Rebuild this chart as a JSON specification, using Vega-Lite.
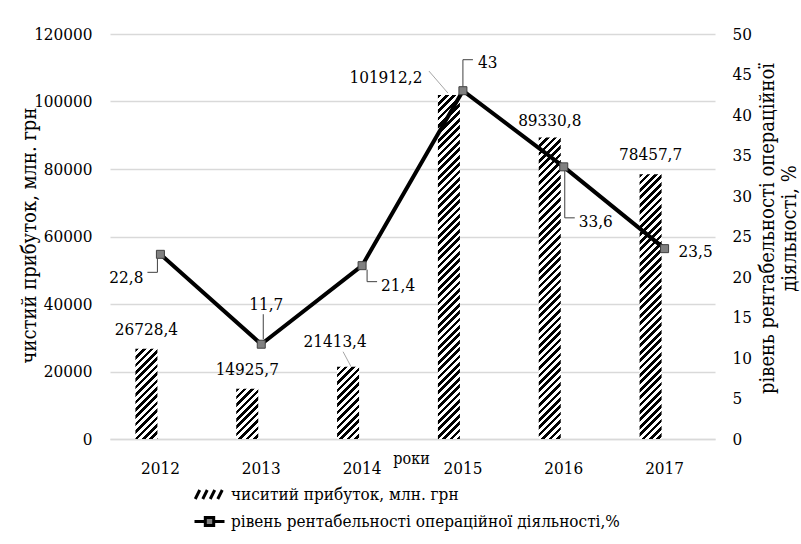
{
  "$schema": "https://vega.github.io/schema/vega-lite/v6.json",
  "width": 605,
  "height": 405,
  "autosize": "none",
  "padding": {"left": 110, "top": 34, "right": 86, "bottom": 105},
  "background": "white",
  "params": [
    {"name": "hatch", "value": [
      {"offset":0,"color":"#000"},{"offset":0.01,"color":"#000"},{"offset":0.01,"color":"#fff"},{"offset":0.02,"color":"#fff"},
      {"offset":0.02,"color":"#000"},{"offset":0.03,"color":"#000"},{"offset":0.03,"color":"#fff"},{"offset":0.04,"color":"#fff"},
      {"offset":0.04,"color":"#000"},{"offset":0.05,"color":"#000"},{"offset":0.05,"color":"#fff"},{"offset":0.06,"color":"#fff"},
      {"offset":0.06,"color":"#000"},{"offset":0.07,"color":"#000"},{"offset":0.07,"color":"#fff"},{"offset":0.08,"color":"#fff"},
      {"offset":0.08,"color":"#000"},{"offset":0.09,"color":"#000"},{"offset":0.09,"color":"#fff"},{"offset":0.10,"color":"#fff"},
      {"offset":0.10,"color":"#000"},{"offset":0.11,"color":"#000"},{"offset":0.11,"color":"#fff"},{"offset":0.12,"color":"#fff"},
      {"offset":0.12,"color":"#000"},{"offset":0.13,"color":"#000"},{"offset":0.13,"color":"#fff"},{"offset":0.14,"color":"#fff"},
      {"offset":0.14,"color":"#000"},{"offset":0.15,"color":"#000"},{"offset":0.15,"color":"#fff"},{"offset":0.16,"color":"#fff"},
      {"offset":0.16,"color":"#000"},{"offset":0.17,"color":"#000"},{"offset":0.17,"color":"#fff"},{"offset":0.18,"color":"#fff"},
      {"offset":0.18,"color":"#000"},{"offset":0.19,"color":"#000"},{"offset":0.19,"color":"#fff"},{"offset":0.20,"color":"#fff"},
      {"offset":0.20,"color":"#000"},{"offset":0.21,"color":"#000"},{"offset":0.21,"color":"#fff"},{"offset":0.22,"color":"#fff"},
      {"offset":0.22,"color":"#000"},{"offset":0.23,"color":"#000"},{"offset":0.23,"color":"#fff"},{"offset":0.24,"color":"#fff"},
      {"offset":0.24,"color":"#000"},{"offset":0.25,"color":"#000"},{"offset":0.25,"color":"#fff"},{"offset":0.26,"color":"#fff"},
      {"offset":0.26,"color":"#000"},{"offset":0.27,"color":"#000"},{"offset":0.27,"color":"#fff"},{"offset":0.28,"color":"#fff"},
      {"offset":0.28,"color":"#000"},{"offset":0.29,"color":"#000"},{"offset":0.29,"color":"#fff"},{"offset":0.30,"color":"#fff"},
      {"offset":0.30,"color":"#000"},{"offset":0.31,"color":"#000"},{"offset":0.31,"color":"#fff"},{"offset":0.32,"color":"#fff"},
      {"offset":0.32,"color":"#000"},{"offset":0.33,"color":"#000"},{"offset":0.33,"color":"#fff"},{"offset":0.34,"color":"#fff"},
      {"offset":0.34,"color":"#000"},{"offset":0.35,"color":"#000"},{"offset":0.35,"color":"#fff"},{"offset":0.36,"color":"#fff"},
      {"offset":0.36,"color":"#000"},{"offset":0.37,"color":"#000"},{"offset":0.37,"color":"#fff"},{"offset":0.38,"color":"#fff"},
      {"offset":0.38,"color":"#000"},{"offset":0.39,"color":"#000"},{"offset":0.39,"color":"#fff"},{"offset":0.40,"color":"#fff"},
      {"offset":0.40,"color":"#000"},{"offset":0.41,"color":"#000"},{"offset":0.41,"color":"#fff"},{"offset":0.42,"color":"#fff"},
      {"offset":0.42,"color":"#000"},{"offset":0.43,"color":"#000"},{"offset":0.43,"color":"#fff"},{"offset":0.44,"color":"#fff"},
      {"offset":0.44,"color":"#000"},{"offset":0.45,"color":"#000"},{"offset":0.45,"color":"#fff"},{"offset":0.46,"color":"#fff"},
      {"offset":0.46,"color":"#000"},{"offset":0.47,"color":"#000"},{"offset":0.47,"color":"#fff"},{"offset":0.48,"color":"#fff"},
      {"offset":0.48,"color":"#000"},{"offset":0.49,"color":"#000"},{"offset":0.49,"color":"#fff"},{"offset":0.50,"color":"#fff"},
      {"offset":0.50,"color":"#000"},{"offset":0.51,"color":"#000"},{"offset":0.51,"color":"#fff"},{"offset":0.52,"color":"#fff"},
      {"offset":0.52,"color":"#000"},{"offset":0.53,"color":"#000"},{"offset":0.53,"color":"#fff"},{"offset":0.54,"color":"#fff"},
      {"offset":0.54,"color":"#000"},{"offset":0.55,"color":"#000"},{"offset":0.55,"color":"#fff"},{"offset":0.56,"color":"#fff"},
      {"offset":0.56,"color":"#000"},{"offset":0.57,"color":"#000"},{"offset":0.57,"color":"#fff"},{"offset":0.58,"color":"#fff"},
      {"offset":0.58,"color":"#000"},{"offset":0.59,"color":"#000"},{"offset":0.59,"color":"#fff"},{"offset":0.60,"color":"#fff"},
      {"offset":0.60,"color":"#000"},{"offset":0.61,"color":"#000"},{"offset":0.61,"color":"#fff"},{"offset":0.62,"color":"#fff"},
      {"offset":0.62,"color":"#000"},{"offset":0.63,"color":"#000"},{"offset":0.63,"color":"#fff"},{"offset":0.64,"color":"#fff"},
      {"offset":0.64,"color":"#000"},{"offset":0.65,"color":"#000"},{"offset":0.65,"color":"#fff"},{"offset":0.66,"color":"#fff"},
      {"offset":0.66,"color":"#000"},{"offset":0.67,"color":"#000"},{"offset":0.67,"color":"#fff"},{"offset":0.68,"color":"#fff"},
      {"offset":0.68,"color":"#000"},{"offset":0.69,"color":"#000"},{"offset":0.69,"color":"#fff"},{"offset":0.70,"color":"#fff"},
      {"offset":0.70,"color":"#000"},{"offset":0.71,"color":"#000"},{"offset":0.71,"color":"#fff"},{"offset":0.72,"color":"#fff"},
      {"offset":0.72,"color":"#000"},{"offset":0.73,"color":"#000"},{"offset":0.73,"color":"#fff"},{"offset":0.74,"color":"#fff"},
      {"offset":0.74,"color":"#000"},{"offset":0.75,"color":"#000"},{"offset":0.75,"color":"#fff"},{"offset":0.76,"color":"#fff"},
      {"offset":0.76,"color":"#000"},{"offset":0.77,"color":"#000"},{"offset":0.77,"color":"#fff"},{"offset":0.78,"color":"#fff"},
      {"offset":0.78,"color":"#000"},{"offset":0.79,"color":"#000"},{"offset":0.79,"color":"#fff"},{"offset":0.80,"color":"#fff"},
      {"offset":0.80,"color":"#000"},{"offset":0.81,"color":"#000"},{"offset":0.81,"color":"#fff"},{"offset":0.82,"color":"#fff"},
      {"offset":0.82,"color":"#000"},{"offset":0.83,"color":"#000"},{"offset":0.83,"color":"#fff"},{"offset":0.84,"color":"#fff"},
      {"offset":0.84,"color":"#000"},{"offset":0.85,"color":"#000"},{"offset":0.85,"color":"#fff"},{"offset":0.86,"color":"#fff"},
      {"offset":0.86,"color":"#000"},{"offset":0.87,"color":"#000"},{"offset":0.87,"color":"#fff"},{"offset":0.88,"color":"#fff"},
      {"offset":0.88,"color":"#000"},{"offset":0.89,"color":"#000"},{"offset":0.89,"color":"#fff"},{"offset":0.90,"color":"#fff"},
      {"offset":0.90,"color":"#000"},{"offset":0.91,"color":"#000"},{"offset":0.91,"color":"#fff"},{"offset":0.92,"color":"#fff"},
      {"offset":0.92,"color":"#000"},{"offset":0.93,"color":"#000"},{"offset":0.93,"color":"#fff"},{"offset":0.94,"color":"#fff"},
      {"offset":0.94,"color":"#000"},{"offset":0.95,"color":"#000"},{"offset":0.95,"color":"#fff"},{"offset":0.96,"color":"#fff"},
      {"offset":0.96,"color":"#000"},{"offset":0.97,"color":"#000"},{"offset":0.97,"color":"#fff"},{"offset":0.98,"color":"#fff"},
      {"offset":0.98,"color":"#000"},{"offset":0.99,"color":"#000"},{"offset":0.99,"color":"#fff"},{"offset":1,"color":"#fff"}
    ]}
  ],
  "data": {"values": [
    {"year": "2012", "profit": 26728.4, "rate": 22.8},
    {"year": "2013", "profit": 14925.7, "rate": 11.7},
    {"year": "2014", "profit": 21413.4, "rate": 21.4},
    {"year": "2015", "profit": 101912.2, "rate": 43},
    {"year": "2016", "profit": 89330.8, "rate": 33.6},
    {"year": "2017", "profit": 78457.7, "rate": 23.5}
  ]},
  "layer": [
    {
      "layer": [
        {
          "mark": {
            "type": "bar",
            "width": 22,
            "xOffset": -14,
            "fill": {"expr": "{gradient:'linear',x1:0,y1:0,x2:22*370/(484+pow(datum.profit*height/120000,2)),y2:(datum.profit*height/120000)*370/(484+pow(datum.profit*height/120000,2)),stops:hatch}"}
          },
          "encoding": {
            "x": {
              "field": "year", "type": "ordinal",
              "scale": {"paddingInner": 0, "paddingOuter": 0},
              "axis": {
                "labelAngle": 0, "labelPadding": 21, "domain": true, "domainColor": "#d9d9d9", "domainWidth": 1.5,
                "title": "роки", "titleX": 301, "titleY": 24, "titleAlign": "center", "titleBaseline": "alphabetic",
                "titleFontSize": 16, "titleFontWeight": "normal"
              }
            },
            "y": {
              "field": "profit", "type": "quantitative",
              "scale": {"domain": [0, 120000], "nice": false},
              "axis": {
                "values": [0, 20000, 40000, 60000, 80000, 100000, 120000],
                "format": "d", "grid": true, "gridColor": "#d9d9d9", "gridWidth": 1.5,
                "labelPadding": 18,
                "title": "чистий прибуток, млн. грн", "titleFontSize": 20,
                "titleAngle": -90, "titleX": -75, "titleY": 201, "titleAlign": "center", "titleBaseline": "alphabetic"
              }
            }
          }
        },
        {
          "mark": {
            "type": "rule", "color": "#a6a6a6", "strokeWidth": 1,
            "opacity": {"expr": "datum.year === '2014' || datum.year === '2015' ? 1 : 0"},
            "xOffset": {"expr": "datum.year === '2014' ? -19 : -34"},
            "x2Offset": {"expr": "datum.year === '2014' ? -11 : -15"},
            "yOffset": {"expr": "datum.year === '2014' ? -15 : -24"},
            "y2Offset": {"expr": "datum.year === '2014' ? 0 : -2"}
          },
          "encoding": {
            "x": {"field": "year", "type": "ordinal", "bandPosition": 0.5},
            "x2": {"field": "year", "bandPosition": 0.5},
            "y": {"field": "profit", "type": "quantitative"},
            "y2": {"field": "profit"}
          }
        },
        {
          "mark": {
            "type": "text", "xOffset": -14, "baseline": "alphabetic", "align": "center",
            "dx": {"expr": "datum.year === '2014' ? -13 : datum.year === '2015' ? -63 : 0"},
            "dy": {"expr": "datum.year === '2014' ? -20 : datum.year === '2015' ? -12 : datum.year === '2016' ? -12 : -14"}
          },
          "encoding": {
            "x": {"field": "year", "type": "ordinal"},
            "y": {"field": "profit", "type": "quantitative"},
            "text": {"field": "profit", "type": "quantitative", "format": ".1~f"}
          }
        }
      ]
    },
    {
      "layer": [
        {
          "mark": {"type": "line", "color": "#000", "strokeWidth": 4},
          "encoding": {
            "x": {"field": "year", "type": "ordinal"},
            "y": {
              "field": "rate", "type": "quantitative",
              "scale": {"domain": [0, 50], "nice": false},
              "axis": {
                "orient": "right", "grid": false,
                "values": [0, 5, 10, 15, 20, 25, 30, 35, 40, 45, 50],
                "labelPadding": 17,
                "title": ["рівень рентабельності операційної", "діяльності, %"], "titleFontSize": 20,
                "titleAngle": -90, "titleX": 58, "titleY": 194, "titleAlign": "center", "titleBaseline": "alphabetic",
                "titleLineHeight": 22
              }
            }
          }
        },
        {
          "mark": {
            "type": "rule", "color": "#404040", "strokeWidth": 1,
            "xOffset": {"expr": "datum.year === '2012' ? -3 : datum.year === '2013' ? 2 : datum.year === '2014' ? 5 : datum.year === '2016' ? 1 : 0"},
            "yOffset": {"expr": "datum.year === '2012' ? 4 : datum.year === '2013' ? -30 : datum.year === '2014' ? 4 : datum.year === '2015' ? -31 : datum.year === '2016' ? 4 : 0"},
            "y2Offset": {"expr": "datum.year === '2012' ? 18 : datum.year === '2013' ? -5 : datum.year === '2014' ? 16 : datum.year === '2015' ? -4 : datum.year === '2016' ? 51 : 0"}
          },
          "encoding": {
            "x": {"field": "year", "type": "ordinal"},
            "y": {"field": "rate", "type": "quantitative"},
            "y2": {"field": "rate"}
          }
        },
        {
          "mark": {
            "type": "tick", "orient": "horizontal", "color": "#404040", "size": 10, "thickness": 1,
            "opacity": {"expr": "datum.year === '2013' || datum.year === '2017' ? 0 : 1"},
            "xOffset": {"expr": "datum.year === '2012' ? -8 : datum.year === '2014' ? 10 : datum.year === '2016' ? 6 : 5"},
            "yOffset": {"expr": "datum.year === '2012' ? 18 : datum.year === '2014' ? 16 : datum.year === '2015' ? -31 : datum.year === '2016' ? 51 : 0"}
          },
          "encoding": {
            "x": {"field": "year", "type": "ordinal"},
            "y": {"field": "rate", "type": "quantitative"}
          }
        },
        {
          "mark": {"type": "square", "size": 64, "fill": "#808080", "stroke": "#404040", "strokeWidth": 1, "opacity": 1},
          "encoding": {
            "x": {"field": "year", "type": "ordinal"},
            "y": {"field": "rate", "type": "quantitative"}
          }
        },
        {
          "mark": {
            "type": "text", "baseline": "alphabetic",
            "align": {"expr": "datum.year === '2012' ? 'right' : datum.year === '2013' ? 'center' : 'left'"},
            "dx": {"expr": "datum.year === '2012' ? -17 : datum.year === '2013' ? 5 : datum.year === '2014' ? 19 : datum.year === '2017' ? 14 : 15"},
            "dy": {"expr": "datum.year === '2012' ? 29 : datum.year === '2013' ? -34 : datum.year === '2014' ? 25 : datum.year === '2015' ? -23 : datum.year === '2016' ? 60 : 8"}
          },
          "encoding": {
            "x": {"field": "year", "type": "ordinal"},
            "y": {"field": "rate", "type": "quantitative"},
            "text": {"field": "rate", "type": "quantitative", "format": ".1~f"}
          }
        }
      ]
    },
    {
      "data": {"values": [
        {"series": "чиситий прибуток, млн. грн"},
        {"series": "рівень рентабельності операційної діяльності,%"}
      ]},
      "mark": {"type": "point", "opacity": 0},
      "encoding": {
        "shape": {
          "field": "series", "type": "nominal",
          "scale": {
            "domain": ["чиситий прибуток, млн. грн", "рівень рентабельності операційної діяльності,%"],
            "range": ["M-0.95,0.3L-0.65,-0.3M-0.45,0.3L-0.15,-0.3M0.05,0.3L0.35,-0.3M0.55,0.3L0.85,-0.3", "M-1,0L-0.3,0M0.3,0L1,0M-0.28,-0.27L0.28,-0.27L0.28,0.27L-0.28,0.27Z"]
          },
          "legend": {
            "title": null, "orient": "none", "legendX": 83, "legendY": 444, "direction": "vertical",
            "padding": 0, "rowPadding": 0, "symbolSize": 900, "labelOffset": 5, "labelLimit": 0,
            "labelFontSize": 17, "labelColor": "#000",
            "symbolStrokeWidth": 3, "symbolOpacity": 1,
            "encode": {"symbols": {"update": {"opacity": {"value": 1}}}}
          }
        },
        "fill": {
          "field": "series", "type": "nominal",
          "scale": {
            "domain": ["чиситий прибуток, млн. грн", "рівень рентабельності операційної діяльності,%"],
            "range": ["#808080", "#808080"]
          }
        },
        "stroke": {
          "field": "series", "type": "nominal",
          "scale": {
            "domain": ["чиситий прибуток, млн. грн", "рівень рентабельності операційної діяльності,%"],
            "range": ["#000", "#000"]
          }
        }
      }
    }
  ],
  "resolve": {"scale": {"y": "independent"}},
  "config": {
    "locale": {"number": {"decimal": ",", "thousands": "", "grouping": [3], "currency": ["", ""]}},
    "view": {"stroke": null},
    "font": "DejaVu Serif Condensed, DejaVu Serif",
    "text": {"fontSize": 17, "color": "#000"},
    "legend": {"labelFont": "DejaVu Serif Condensed, DejaVu Serif"},
    "axis": {
      "labelFont": "DejaVu Serif Condensed, DejaVu Serif", "labelFontSize": 17, "labelColor": "#000",
      "titleFont": "DejaVu Serif Condensed, DejaVu Serif", "titleFontSize": 17, "titleColor": "#000", "titleFontWeight": "normal",
      "ticks": false, "tickSize": 0, "domain": false
    }
  }
}
